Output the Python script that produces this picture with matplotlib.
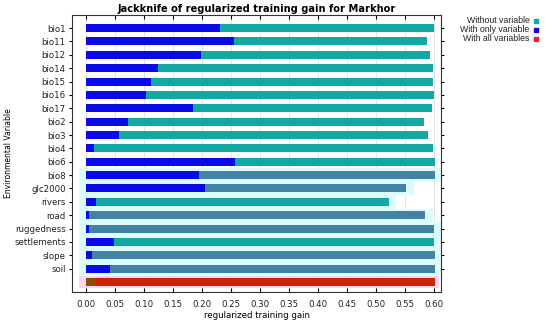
import matplotlib
matplotlib.use("Agg")
import matplotlib.pyplot as plt
from matplotlib.patches import Rectangle

# Jackknife results
variables = ['bio1', 'bio11', 'bio12', 'bio14', 'bio15', 'bio16', 'bio17', 'bio2',
             'bio3', 'bio4', 'bio6', 'bio8', 'glc2000', 'rivers', 'road',
             'ruggedness', 'settlements', 'slope', 'soil']
without_var = [0.600, 0.588, 0.593, 0.598, 0.598, 0.599, 0.596, 0.583,
               0.590, 0.598, 0.601, 0.601, 0.552, 0.522, 0.585,
               0.600, 0.599, 0.601, 0.601]
only_var = [0.231, 0.255, 0.198, 0.124, 0.112, 0.104, 0.184, 0.072,
            0.057, 0.014, 0.257, 0.195, 0.205, 0.017, 0.006,
            0.006, 0.048, 0.010, 0.041]
all_vars = 0.601
xticks = [0.00, 0.05, 0.10, 0.15, 0.20, 0.25, 0.30, 0.35, 0.40, 0.45, 0.50, 0.55, 0.60]

TEAL = '#14a8a2'
STEEL = '#4382a2'
BLUE = '#0a0ae6'
RED = '#c82400'
# rendering in the reference blends some "without" bars towards steel blue
steel_rows = {'bio8', 'glc2000', 'road', 'ruggedness', 'slope', 'soil'}

fig = plt.figure(figsize=(5.5, 3.22), dpi=100)
ax = fig.add_axes([0.131, 0.093, 0.671, 0.860])

n = len(variables)
ys = list(range(n))

# faint halo behind the lower rows, as in the reference
for i, v in enumerate(variables):
    if i >= 11:
        ax.barh(i, without_var[i] + 0.025, left=-0.012, height=1.0,
                color='#dcfcfc', zorder=1)
ax.barh(n, all_vars + 0.02, left=-0.012, height=0.9, color='#fcd6f0', zorder=1)

for i, v in enumerate(variables):
    c = STEEL if v in steel_rows else TEAL
    ax.barh(i, without_var[i], height=0.6, color=c, zorder=3)
    ax.barh(i, only_var[i], height=0.6, color=BLUE, zorder=4)
ax.barh(n, all_vars, height=0.6, color=RED, zorder=3)
ax.barh(n, 0.017, height=0.6, color='#8a4a10', zorder=4)

ax.set_xlim(-0.024, 0.612)
ax.set_ylim(n + 0.75, -0.97)
ax.set_xticks(xticks)
ax.set_xticklabels(['%.2f' % t for t in xticks], fontsize=6.2, color='#222222')
ax.set_yticks(ys)
ax.set_yticklabels(variables, fontsize=6.2, color='#222222')
ax.tick_params(axis='x', direction='in', length=3, top=True, pad=6)
ax.tick_params(axis='y', direction='out', length=2.5, right=True, pad=2)
ax.grid(axis='x', color='#e2e2e2', linewidth=0.7, zorder=0)
ax.set_axisbelow(True)
for s in ax.spines.values():
    s.set_color('#333333')
    s.set_linewidth(0.8)

ax.set_xlabel('regularized training gain', fontsize=6.2, labelpad=1)
ax.set_ylabel('Environmental Variable', fontsize=5.5)
ax.yaxis.set_label_coords(-0.16, 0.5)
ax.set_title('Jackknife of regularized training gain for Markhor',
             fontsize=7.1, fontweight='bold', pad=2)

# legend outside on the right, text then a small coloured square
legend_items = [('Without variable', TEAL), ('With only variable', BLUE),
                ('With all variables', '#e8202a')]
for k, (lab, col) in enumerate(legend_items):
    y = 0.935 - k * 0.028
    fig.text(0.963, y, lab, fontsize=6.3, family='Liberation Sans',
             ha='right', va='center', color='#222222')
    fig.patches.append(Rectangle((0.971, y - 0.007), 0.008, 0.014,
                                 transform=fig.transFigure, color=col))

fig.savefig('out.png', dpi=100)
